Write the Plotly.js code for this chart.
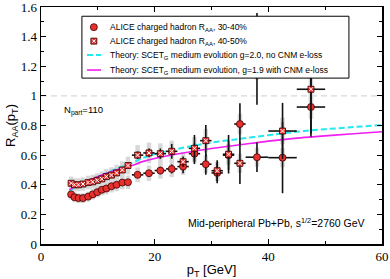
<!DOCTYPE html>
<html><head><meta charset="utf-8">
<script src="https://cdn.plot.ly/plotly-3.0.1.min.js"></script>
<style>html,body{margin:0;padding:0;background:#fff}#c{width:390px;height:279px}</style>
</head><body><div id="c"></div>
<script>
// pT bin centres [GeV]
const pt = [5.3,5.9,6.6,7.4,8.3,9.1,9.9,10.7,11.5,12.4,13.3,14.3,15.3,17,19,21,23,25,27,29,31,33,35,38,42.5,47.5];
const ptHalfWidth = [0.3,0.3,0.35,0.4,0.45,0.4,0.4,0.4,0.4,0.45,0.45,0.5,0.5,1,1,1,1,1,1,1,1,1,1,2,2.5,2.5];
// ALICE 30-40%
const raa3040 = [0.335,0.316,0.31,0.31,0.32,0.335,0.35,0.366,0.375,0.39,0.40,0.415,0.417,0.467,0.478,0.496,0.507,0.523,0.61,0.539,0.48,0.60,0.81,0.586,0.583,0.925];
const stat3040 = [0.004,0.004,0.004,0.004,0.005,0.005,0.006,0.006,0.007,0.008,0.009,0.01,0.012,0.02,0.02,0.025,0.03,0.045,0.07,0.072,0.07,0.1,0.14,0.1,0.24,0.2];
const sys3040 = [0.035,0.033,0.033,0.033,0.034,0.035,0.036,0.038,0.04,0.042,0.043,0.045,0.046,0.05,0.052,0.054,0.055,0.056,0.06,0.06,0.055,0.06,0.07,0.065,0.065,0.08];
// ALICE 40-50%
const raa4050 = [0.41,0.40,0.40,0.405,0.415,0.42,0.43,0.44,0.455,0.465,0.48,0.50,0.53,0.60,0.615,0.61,0.626,0.556,0.646,0.698,0.495,0.606,0.545,1.25,0.763,1.045];
const stat4050 = [0.005,0.005,0.005,0.006,0.006,0.007,0.007,0.008,0.009,0.01,0.012,0.014,0.016,0.025,0.03,0.035,0.05,0.035,0.09,0.105,0.07,0.13,0.14,0.31,0.19,0.3];
const sys4050 = [0.045,0.044,0.044,0.045,0.046,0.047,0.048,0.05,0.052,0.053,0.055,0.058,0.06,0.068,0.07,0.07,0.072,0.065,0.075,0.08,0.06,0.07,0.065,0.14,0.09,0.12];
// Theory curves
const thPt = [5,6,8,10,12,14,16,18,20,25,30,35,40,45,50,55,60];
const thNoCNM = [0.36,0.385,0.42,0.452,0.487,0.518,0.548,0.582,0.607,0.65,0.685,0.71,0.735,0.758,0.775,0.79,0.803];
const thCNM = [0.365,0.39,0.425,0.455,0.484,0.51,0.53,0.558,0.578,0.615,0.645,0.67,0.695,0.715,0.73,0.745,0.758];
// Tick labels / legend labels
const yTicks = [0,0.2,0.4,0.6,0.8,1,1.2,1.4,1.6];
const yTickText = ['0','0.2','0.4','0.6','0.8','1','1.2','1.4','1.6'];
const legendLabels = [
  'ALICE charged hadron R<sub>AA</sub>, 30-40%',
  'ALICE charged hadron R<sub>AA</sub>, 40-50%',
  'Theory: SCET<sub>G</sub> medium evolution g=2.0, no CNM e-loss',
  'Theory: SCET<sub>G</sub> medium evolution, g=1.9 with CNM e-loss'
];

const red = '#e8312f';
const cyan = '#22e8f0';
const magenta = '#f01ef0';
const traces = [
  {x: pt, y: raa4050, type:'scatter', mode:'markers', showlegend:false, hoverinfo:'skip',
   marker:{size:0.1, color:'rgba(0,0,0,0)'},
   error_y:{type:'data', array:sys4050, color:'#d8d8d8', thickness:4.5, width:0}},
  {x: pt, y: raa3040, type:'scatter', mode:'markers', showlegend:false, hoverinfo:'skip',
   marker:{size:0.1, color:'rgba(0,0,0,0)'},
   error_y:{type:'data', array:sys3040, color:'#d8d8d8', thickness:4.5, width:0}},
  {x: thPt, y: thNoCNM, type:'scatter', mode:'lines', showlegend:false, line:{color:cyan, width:2, dash:'6px,3px', shape:'spline'}, name:legendLabels[2]},
  {x: thPt, y: thCNM, type:'scatter', mode:'lines', showlegend:false, line:{color:magenta, width:1.6, shape:'spline'}, name:legendLabels[3]},
  {x: pt, y: raa3040, type:'scatter', mode:'markers', showlegend:false, name:legendLabels[0],
   marker:{symbol:'circle', size:7, color:red, line:{color:'#3a0000', width:0.8}},
   error_y:{type:'data', array:stat3040, color:'#111', thickness:1.6, width:0},
   error_x:{type:'data', array:ptHalfWidth, color:'#111', thickness:1.6, width:0}},
  {x: pt, y: raa4050, type:'scatter', mode:'markers', showlegend:false, name:legendLabels[1],
   marker:{symbol:'square', size:6, color:red, line:{color:'#3a0000', width:0.8}},
   error_y:{type:'data', array:stat4050, color:'#111', thickness:1.6, width:0},
   error_x:{type:'data', array:ptHalfWidth, color:'#111', thickness:1.6, width:0}},
  {x: pt, y: raa4050, type:'scatter', mode:'markers', showlegend:false, hoverinfo:'skip',
   marker:{symbol:'x-thin', size:4, color:'#fff', line:{color:'#fff', width:1}}}
];

// custom legend (paper coordinates)
const lgX0 = 0.12, lgX1 = 0.903, lgY0 = 0.70, lgY1 = 0.961;
const rowY = [0.915, 0.856, 0.797, 0.734];
const symX = 0.155, txtX = 0.196;
const shapes = [
  {type:'line', xref:'paper', x0:0, x1:1, yref:'y', y0:1, y1:1, line:{color:'#cfcfcf', width:1, dash:'6px,4px'}, layer:'below'},
  {type:'rect', xref:'paper', yref:'paper', x0:lgX0, x1:lgX1, y0:lgY0, y1:lgY1, fillcolor:'#fff', line:{color:'#000', width:1}},
  {type:'circle', xref:'paper', yref:'paper', xsizemode:'pixel', ysizemode:'pixel', xanchor:symX, yanchor:rowY[0],
   x0:-3.5, x1:3.5, y0:-3.5, y1:3.5, fillcolor:red, line:{color:'#3a0000', width:0.8}},
  {type:'rect', xref:'paper', yref:'paper', xsizemode:'pixel', ysizemode:'pixel', xanchor:symX, yanchor:rowY[1],
   x0:-3, x1:3, y0:-3, y1:3, fillcolor:red, line:{color:'#3a0000', width:0.8}},
  {type:'line', xref:'paper', yref:'paper', xsizemode:'pixel', ysizemode:'pixel', xanchor:symX, yanchor:rowY[1],
   x0:-1.6, x1:1.6, y0:-1.6, y1:1.6, line:{color:'#fff', width:1}},
  {type:'line', xref:'paper', yref:'paper', xsizemode:'pixel', ysizemode:'pixel', xanchor:symX, yanchor:rowY[1],
   x0:-1.6, x1:1.6, y0:1.6, y1:-1.6, line:{color:'#fff', width:1}},
  {type:'line', xref:'paper', yref:'paper', x0:0.135, x1:0.176, y0:rowY[2], y1:rowY[2], line:{color:cyan, width:2, dash:'6px,3px'}},
  {type:'line', xref:'paper', yref:'paper', x0:0.135, x1:0.176, y0:rowY[3], y1:rowY[3], line:{color:magenta, width:1.6}}
];
const annotations = legendLabels.map((t,i)=>({xref:'paper', yref:'paper', x:txtX, y:rowY[i], xanchor:'left', yanchor:'middle',
  showarrow:false, text:t, font:{size:8.5}}));
annotations.push(
  {xref:'paper', yref:'paper', x:0.062, y:0.565, xanchor:'left', yanchor:'middle', showarrow:false,
   text:'N<sub>part</sub>=110', font:{size:9.5}},
  {xref:'paper', yref:'paper', x:0.955, y:0.09, xanchor:'right', yanchor:'middle', showarrow:false,
   text:'Mid-peripheral Pb+Pb, s<sup>1/2</sup>=2760 GeV', font:{size:10.5}}
);

const tickFont = {family:'Liberation Serif, serif', size:13, color:'#000'};
const layout = {
  width:390, height:279,
  margin:{l:41, r:8, t:7, b:35},
  paper_bgcolor:'#fff', plot_bgcolor:'#fff',
  font:{family:'Liberation Sans, Arial, sans-serif', size:9, color:'#000'},
  showlegend:false,
  xaxis:{range:[0,60], dtick:20, tick0:0, ticks:'inside', ticklen:5, tickwidth:1, tickcolor:'#000',
    minor:{dtick:10, ticks:'inside', ticklen:3, tickcolor:'#000'},
    showgrid:false, zeroline:false, showline:true, linecolor:'#000', linewidth:1.5, mirror:'ticks',
    tickfont:tickFont,
    title:{text:'p<sub>T</sub> [GeV]', font:{family:'Liberation Sans, Arial, sans-serif', size:13}, standoff:4}},
  yaxis:{range:[0,1.6005], tickmode:'array', tickvals:yTicks, ticktext:yTickText, ticks:'inside', ticklen:5, tickwidth:1, tickcolor:'#000',
    minor:{dtick:0.1, tick0:0, ticks:'inside', ticklen:3, tickcolor:'#000'},
    showgrid:false, zeroline:false, showline:true, linecolor:'#000', linewidth:1.5, mirror:'ticks',
    tickfont:tickFont, ticklabeloverflow:'allow',
    title:{text:'R<sub>AA</sub>(p<sub>T</sub>)', font:{family:'Liberation Sans, Arial, sans-serif', size:13}, standoff:2}},
  shapes: shapes,
  annotations: annotations
};
Plotly.newPlot('c', traces, layout, {staticPlot:true, displayModeBar:false});
</script></body></html>
